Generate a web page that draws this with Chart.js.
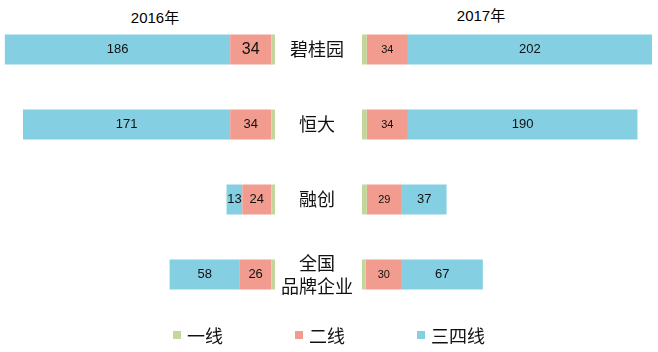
<!DOCTYPE html>
<html>
<head>
<meta charset="utf-8">
<script src="https://cdn.jsdelivr.net/npm/chart.js@4.4.1/dist/chart.umd.min.js"></script>
<style>
  html, body { margin: 0; padding: 0; background: #fff; }
  #wrap { position: relative; width: 658px; height: 352px; overflow: hidden;
    font-family: "Liberation Sans", "Noto Sans CJK SC", sans-serif; }
  .cv { position: absolute; top: 0; }
  .yr { position: absolute; font-size: 15px; color: #000; transform: translateX(-50%); white-space: nowrap; }
  #legend { position: absolute; left: 173px; top: 322px; display: flex; }
  .lg { width: 122px; display: flex; align-items: center; font-size: 18px; color: #111;
    font-family: "Noto Sans CJK SC", sans-serif; }
  .lg i { display: inline-block; width: 8px; height: 8px; margin-right: 6px; }
</style>
</head>
<body>
<div id="wrap">
  <div class="yr" style="left:155px;top:6px">2016年</div>
  <div class="yr" style="left:481px;top:4px">2017年</div>
  <div class="cv" style="left:0;width:275px;height:352px"><canvas id="left"></canvas></div>
  <div class="cv" style="left:275px;width:383px;height:352px"><canvas id="right"></canvas></div>
  <div id="legend"></div>
</div>
<script>
var categories = ['碧桂园', '恒大', '融创', ['全国', '品牌企业']];
var seriesNames = ['一线', '二线', '三四线'];
var seriesColors = ['#c3d69b', '#f29b8f', '#84cfe1'];

// 2016
var tier1_2016 = [3, 3, 3, 3];
var tier2_2016 = [34, 34, 24, 26];
var tier34_2016 = [186, 171, 13, 58];
// 2017
var tier1_2017 = [4, 4, 4, 3];
var tier2_2017 = [34, 34, 29, 30];
var tier34_2017 = [202, 190, 37, 67];

function buildSets(a, b, c) {
  return [a, b, c].map(function (d, i) {
    return {
      label: seriesNames[i],
      data: d,
      backgroundColor: seriesColors[i],
      borderWidth: 0,
      categoryPercentage: 0.8,
      barPercentage: 0.5,
    };
  });
}

function labelSize(chartId, dsIdx, idx) {
  if (chartId === 'left' && dsIdx === 1 && idx === 0) return 16;
  if (chartId === 'right' && dsIdx === 1) return 11;
  return 13;
}

var barLabels = {
  id: 'barLabels',
  afterDatasetsDraw: function (chart) {
    var ctx = chart.ctx;
    ctx.save();
    ctx.fillStyle = '#111';
    ctx.textAlign = 'center';
    ctx.textBaseline = 'middle';
    chart.data.datasets.forEach(function (ds, di) {
      if (di === 0) return;
      chart.getDatasetMeta(di).data.forEach(function (bar, i) {
        var sz = labelSize(chart.canvas.id, di, i);
        ctx.font = sz + 'px "Liberation Sans", Arial, sans-serif';
        ctx.fillText(String(ds.data[i]), (bar.x + bar.base) / 2, bar.y);
      });
    });
    ctx.restore();
  },
};

Chart.defaults.animation = false;

new Chart(document.getElementById('left'), {
  type: 'bar',
  data: { labels: categories, datasets: buildSets(tier1_2016, tier2_2016, tier34_2016) },
  options: {
    indexAxis: 'y',
    responsive: true,
    maintainAspectRatio: false,
    layout: { padding: { top: 12, bottom: 40, left: 0, right: 0 } },
    plugins: { legend: { display: false }, tooltip: { enabled: false } },
    scales: {
      x: { stacked: true, reverse: true, min: 0, max: 227, display: false },
      y: { stacked: true, display: false },
    },
  },
  plugins: [barLabels],
});

new Chart(document.getElementById('right'), {
  type: 'bar',
  data: { labels: categories, datasets: buildSets(tier1_2017, tier2_2017, tier34_2017) },
  options: {
    indexAxis: 'y',
    responsive: true,
    maintainAspectRatio: false,
    layout: { padding: { top: 12, bottom: 40, left: 0, right: 0 } },
    plugins: { legend: { display: false }, tooltip: { enabled: false } },
    scales: {
      x: { stacked: true, min: 0, max: 245, display: false },
      y: {
        stacked: true,
        border: { display: false },
        grid: { display: false, drawTicks: false },
        ticks: {
          crossAlign: 'center',
          padding: 9,
          color: '#111',
          font: { family: '"Noto Sans CJK SC", sans-serif', size: 18, lineHeight: 1.25 },
        },
        afterFit: function (scale) {
          scale.width = 87;
          scale.paddingTop = 0;
          scale.paddingBottom = 0;
        },
      },
    },
  },
  plugins: [barLabels],
});

var legend = document.getElementById('legend');
seriesNames.forEach(function (name, i) {
  var item = document.createElement('div');
  item.className = 'lg';
  item.innerHTML = '<i style="background:' + seriesColors[i] + '"></i>' + name;
  legend.appendChild(item);
});
</script>
</body>
</html>
